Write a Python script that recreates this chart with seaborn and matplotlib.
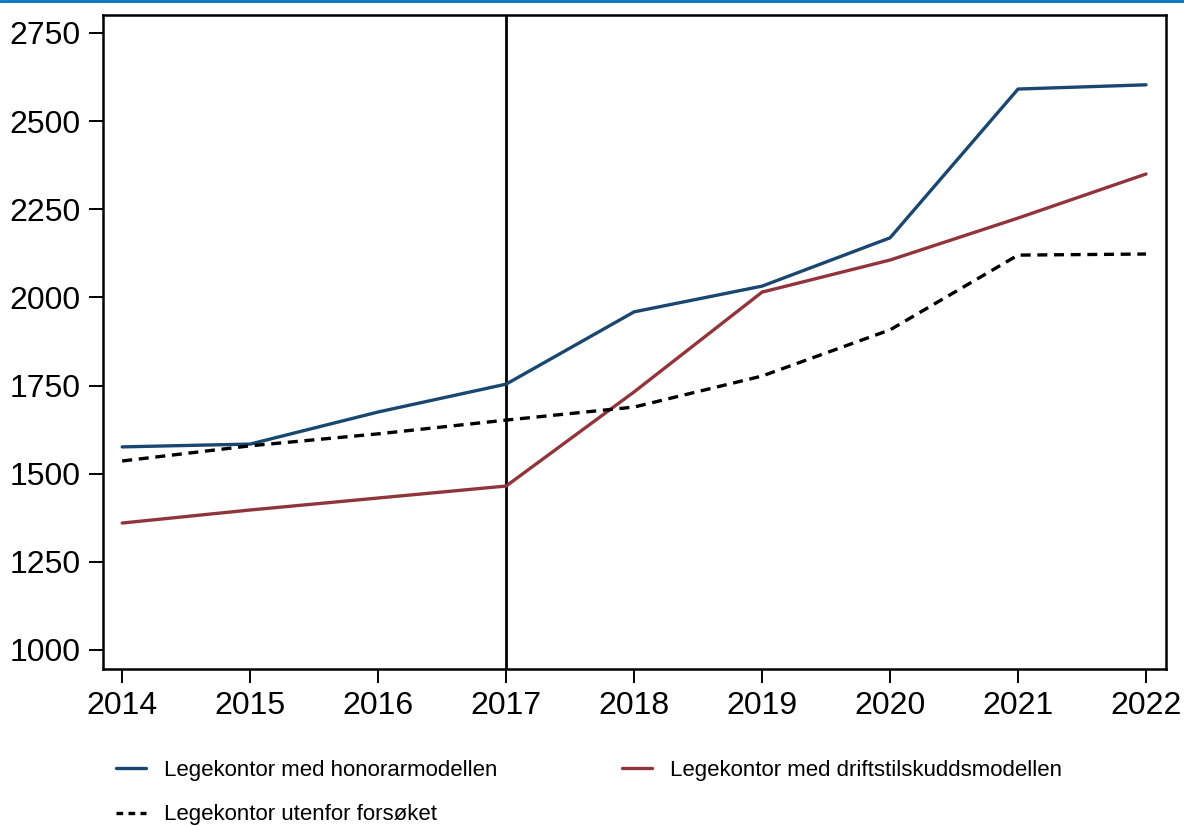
import pandas as pd
import seaborn as sns
import matplotlib.pyplot as plt
from matplotlib.lines import Line2D

years = [2014, 2015, 2016, 2017, 2018, 2019, 2020, 2021, 2022]
honorar = [1576, 1584, 1675, 1754, 1959, 2032, 2169, 2591, 2603]
drift = [1360, 1397, 1431, 1465, 1732, 2015, 2106, 2225, 2350]
utenfor = [1536, 1579, 1613, 1652, 1689, 1777, 1908, 2120, 2123]
yticks = [1000, 1250, 1500, 1750, 2000, 2250, 2500, 2750]

labels = ['Legekontor med honorarmodellen',
          'Legekontor med driftstilskuddsmodellen',
          'Legekontor utenfor forsøket']

sns.set_theme(style='ticks')
plt.rcParams['font.family'] = ['Liberation Sans', 'DejaVu Sans']

fig = plt.figure(figsize=(11.84, 8.26), dpi=100)
ax = fig.add_axes([103 / 1184, 1 - 669 / 826, 1063 / 1184, 654 / 826])

df = pd.DataFrame({'year': years, 'honorar': honorar, 'drift': drift, 'utenfor': utenfor})

dash = (0, (3, 2))
ax.axvline(2017, color='black', lw=2, zorder=1)
sns.lineplot(data=df, x='year', y='honorar', ax=ax, color='#1a476f', lw=2.4)
sns.lineplot(data=df, x='year', y='drift', ax=ax, color='#90353b', lw=2.4)
sns.lineplot(data=df, x='year', y='utenfor', ax=ax, color='black', lw=2.4, linestyle=dash)

ax.set_xlim(2013.85, 2022.156)
ax.set_ylim(946, 2801)
ax.set_xticks(years)
ax.set_yticks(yticks)
ax.set_xlabel('')
ax.set_ylabel('')
ax.tick_params(axis='both', labelsize=23, length=10, width=1.4, colors='black', pad=6)
for s in ax.spines.values():
    s.set_linewidth(1.8)
    s.set_color('black')

# column-wise fill: honorar + utenfor in first column, drift in second
handles = [Line2D([], [], color='#1a476f', lw=2.4),
           Line2D([], [], color='black', lw=2.4, linestyle=(0, (2, 1.6))),
           Line2D([], [], color='#90353b', lw=2.4)]
order = [labels[0], labels[2], labels[1]]
fig.legend(handles, order, ncol=2, loc='upper left', bbox_to_anchor=(0.081, 0.104),
           frameon=False, fontsize=16, handlelength=1.35, columnspacing=5.6,
           labelspacing=1.05, handletextpad=0.81, labelcolor='black')

# thin blue frame line at the top edge
fig.add_artist(Line2D([0, 1], [0.999, 0.999], color='#0070c0', lw=2, transform=fig.transFigure))

fig.savefig('out.png', dpi=100)
